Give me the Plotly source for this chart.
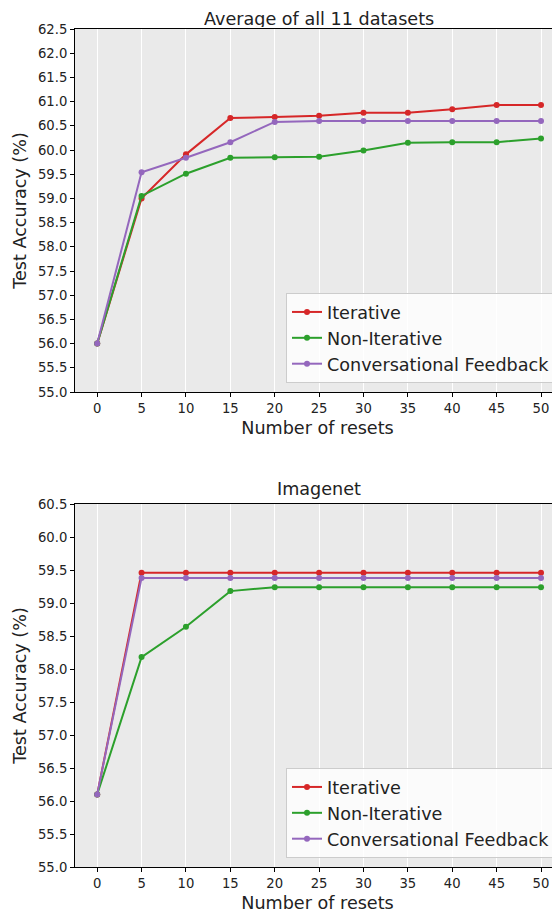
import plotly.graph_objects as go

resets = [0, 5, 10, 15, 20, 25, 30, 35, 40, 45, 50]

avg_iterative = [56.0, 59.0, 59.91, 60.66, 60.68, 60.71, 60.77, 60.77, 60.84, 60.93, 60.93]
avg_non_iterative = [56.0, 59.05, 59.51, 59.84, 59.85, 59.86, 59.99, 60.15, 60.16, 60.16, 60.24]
avg_conversational = [56.0, 59.54, 59.84, 60.16, 60.58, 60.60, 60.60, 60.60, 60.60, 60.60, 60.60]

imn_iterative = [56.1, 59.46, 59.46, 59.46, 59.46, 59.46, 59.46, 59.46, 59.46, 59.46, 59.46]
imn_non_iterative = [56.1, 58.18, 58.64, 59.18, 59.24, 59.24, 59.24, 59.24, 59.24, 59.24, 59.24]
imn_conversational = [56.1, 59.38, 59.38, 59.38, 59.38, 59.38, 59.38, 59.38, 59.38, 59.38, 59.38]

series_names = ["Iterative", "Non-Iterative", "Conversational Feedback"]
colors = ["#d62728", "#2ca02c", "#9467bd"]

# page body has an 8px margin; figure is sized so it fills the 560x913 window
OFF = 8
W, H = 560 - OFF, 913 - OFF
FONT = "DejaVu Sans"
BIG = 17.6
TICK = 13.2

fig = go.Figure()

def add_series(ys_list, xaxis, yaxis, legend):
    for name, ys, c in zip(series_names, ys_list, colors):
        fig.add_trace(go.Scatter(
            x=resets, y=ys, name=name, mode="lines+markers",
            line=dict(color=c, width=2),
            marker=dict(color=c, size=6),
            xaxis=xaxis, yaxis=yaxis, legend=legend,
        ))

add_series([avg_iterative, avg_non_iterative, avg_conversational], "x", "y", "legend")
add_series([imn_iterative, imn_non_iterative, imn_conversational], "x2", "y2", "legend2")

def px(p):
    return (p - OFF) / W

def py(p):
    return 1 - (p - OFF) / H

x_dom = [px(75), 1.0]
xr = [-2.5, (560 - 97) / (444 / 50)]

axis_common = dict(
    showline=True, linecolor="black", linewidth=1, mirror=True,
    ticks="outside", ticklen=4, tickcolor="black", tickwidth=1,
    tickfont=dict(family=FONT, size=TICK, color="#222"),
    automargin=False, zeroline=False,
)
title_font = dict(family=FONT, size=BIG, color="#222")

fig.update_layout(
    width=W, height=H,
    margin=dict(l=0, r=0, t=0, b=0),
    paper_bgcolor="white",
    plot_bgcolor="#EAEAEA",
    font=dict(family=FONT, color="#222"),
    showlegend=True,
    xaxis=dict(domain=x_dom, anchor="y", range=xr, tickvals=resets,
               showgrid=True, gridcolor="white", gridwidth=1,
               title=dict(text="Number of resets", font=title_font, standoff=6),
               **axis_common),
    yaxis=dict(domain=[py(392), py(29)], anchor="x", range=[55.0, 62.5], dtick=0.5, tickformat=".1f",
               showgrid=False,
               title=dict(text="Test Accuracy (%)", font=title_font, standoff=6),
               **axis_common),
    xaxis2=dict(domain=x_dom, anchor="y2", range=xr, tickvals=resets,
                showgrid=True, gridcolor="white", gridwidth=1,
                title=dict(text="Number of resets", font=title_font, standoff=6),
                **axis_common),
    yaxis2=dict(domain=[py(867), py(504)], anchor="x2", range=[55.0, 60.5], dtick=0.5, tickformat=".1f",
                showgrid=False,
                title=dict(text="Test Accuracy (%)", font=title_font, standoff=6),
                **axis_common),
    legend=dict(x=px(556), y=py(383), xanchor="right", yanchor="bottom",
                bgcolor="rgba(255,255,255,0.8)", bordercolor="#cccccc", borderwidth=1,
                font=dict(family=FONT, size=BIG, color="#222"), tracegroupgap=0),
    legend2=dict(x=px(556), y=py(858), xanchor="right", yanchor="bottom",
                 bgcolor="rgba(255,255,255,0.8)", bordercolor="#cccccc", borderwidth=1,
                 font=dict(family=FONT, size=BIG, color="#222"), tracegroupgap=0),
    annotations=[
        dict(text="Average of all 11 datasets", x=px((75 + 563) / 2), y=py(8), xref="paper", yref="paper",
             showarrow=False, xanchor="center", yanchor="top", height=17, valign="middle", font=title_font),
        dict(text="Imagenet", x=px((75 + 563) / 2), y=py(489), xref="paper", yref="paper",
             showarrow=False, xanchor="center", yanchor="middle", font=title_font),
    ],
)

fig.write_html("out.html")
